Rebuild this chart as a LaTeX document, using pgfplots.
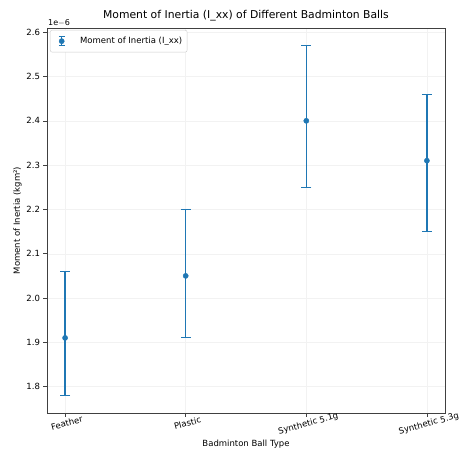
\documentclass[border=0pt]{standalone}
\usepackage{pgfplots}
\pgfplotsset{compat=1.18}
\usepackage{fontspec}
\setmainfont{DejaVu Sans}
\definecolor{tabblue}{HTML}{1F77B4}
\begin{document}
\begin{tikzpicture}
\begin{axis}[
  name=ax,
  scale only axis,
  width=398bp, height=385bp,
  xmin=-0.15, xmax=3.15,
  ymin=1.7405, ymax=2.6095,
  xtick={0,1,2,3},
  xticklabels={Feather,Plastic,Synthetic 5.1g,Synthetic 5.3g},
  xticklabel style={rotate=15, anchor=north, font=\fontsize{8.5bp}{10bp}\selectfont},
  ytick={1.8,1.9,2.0,2.1,2.2,2.3,2.4,2.5,2.6},
  yticklabel style={font=\fontsize{8.5bp}{10bp}\selectfont},
  /pgf/number format/.cd, fixed, fixed zerofill, precision=1, assume math mode=true,
  /pgfplots/.cd,
  tick align=outside,
  major tick length=3.5bp,
  xtick pos=bottom, ytick pos=left,
  axis line style={black!75, line width=0.6pt},
  tick style={black!75, line width=0.6pt},
  grid=major,
  grid style={black!5, line width=0.4pt},
  title={Moment of Inertia (I\_xx) of Different Badminton Balls},
  title style={font=\fontsize{10.8bp}{12bp}\selectfont, yshift=-3bp},
  xlabel={Badminton Ball Type},
  ylabel={Moment of Inertia (kgm²)},
  xlabel style={font=\fontsize{8.5bp}{10bp}\selectfont, yshift=3bp},
  ylabel style={font=\fontsize{8.5bp}{10bp}\selectfont, yshift=-2bp},
  legend style={at={(rel axis cs:0,1)}, anchor=north west, xshift=3bp, yshift=-2bp,
    font=\fontsize{8.5bp}{10bp}\selectfont, draw=black!20, rounded corners=2pt,
    inner xsep=3bp, inner ysep=5bp},
  legend cell align=left,
  legend image code/.code={
    \path[draw=none, fill=none] (0cm,0cm) rectangle (0.88cm,0.01cm);
    \draw[tabblue, line width=1.5bp] (0.3cm,-0.16cm) -- (0.3cm,0.16cm);
    \draw[tabblue, line width=1bp] (0.2cm,-0.16cm) -- (0.4cm,-0.16cm);
    \draw[tabblue, line width=1bp] (0.2cm,0.16cm) -- (0.4cm,0.16cm);
    \fill[tabblue] (0.3cm,0cm) circle (2.6bp);
  },
]
\addplot[
  only marks, mark=*, mark size=2.6bp, color=tabblue,
  error bars/.cd, y dir=both, y explicit,
  error bar style={line width=1.5bp, tabblue},
  error mark options={rotate=90, mark size=5bp, line width=1bp, tabblue},
] coordinates {
  (0,1.91) += (0,0.15) -= (0,0.13)
  (1,2.05) += (0,0.15) -= (0,0.14)
  (2,2.40) += (0,0.17) -= (0,0.15)
  (3,2.31) += (0,0.15) -= (0,0.16)
};
\addlegendentry{Moment of Inertia (I\_xx)}
\end{axis}
\node[anchor=south west, font=\fontsize{8bp}{9bp}\selectfont, inner sep=1pt] at (ax.north west) {1e$-$6};
\pgfresetboundingbox
\useasboundingbox ([shift={(-47bp,-47bp)}]ax.south west) rectangle ([shift={(14bp,28bp)}]ax.north east);
\end{tikzpicture}
\end{document}
